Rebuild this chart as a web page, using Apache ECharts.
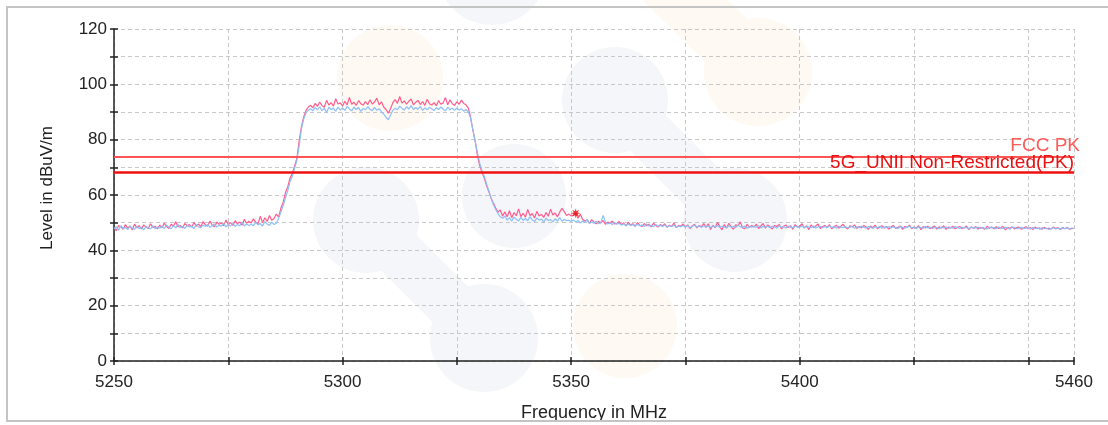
<!DOCTYPE html>
<html><head><meta charset="utf-8">
<script src="https://cdn.jsdelivr.net/npm/echarts@6/dist/echarts.min.js"></script>
<style>html,body{margin:0;padding:0;background:#fff}#c{width:1108px;height:425px}</style>
</head><body><div id="c"></div>
<script>
// sweep grid of the analyzer trace
const FREQ_START = 5250, FREQ_STEP = 0.5;
// peak trace (pink), dBuV/m, one value per 0.5 MHz from 5250 to 5460
const tracePink = [
48.2,47.1,49.0,48.5,47.6,49.3,48.0,48.8,47.4,49.5,48.1,48.9,47.7,49.2,48.4,47.9,49.6,48.3,48.7,47.8,
49.1,48.2,49.8,48.6,47.9,49.4,48.8,50.3,48.5,49.0,48.1,49.7,48.9,49.3,48.4,50.1,48.7,49.5,48.6,50.4,
49.2,48.8,50.6,49.1,48.5,50.2,49.4,49.9,48.9,51.0,49.3,50.0,49.0,50.7,49.6,50.3,49.1,51.2,49.8,50.5,
49.9,51.4,50.2,49.6,52.3,50.1,51.8,50.4,52.6,50.9,51.5,53.1,52.0,55.2,57.3,60.8,62.9,66.1,67.8,70.4,
73.2,79.5,84.6,88.2,90.6,91.8,92.4,91.5,93.1,92.0,93.6,92.3,91.7,94.2,92.5,93.4,92.1,94.8,92.9,93.3,
92.2,93.9,92.6,95.3,92.8,93.5,92.4,94.1,93.0,92.5,93.8,92.7,94.4,92.9,93.6,95.0,92.6,93.7,91.8,90.9,
89.6,91.2,93.4,94.5,93.1,95.6,93.2,94.0,92.8,93.9,94.7,92.6,93.5,94.2,92.7,93.8,92.4,94.6,93.0,92.5,
93.4,92.3,94.1,92.8,93.3,95.2,92.6,94.4,93.0,92.4,93.7,92.8,94.3,93.1,92.6,91.4,88.2,83.5,79.6,74.3,
70.6,68.2,66.1,63.4,61.2,58.7,57.0,55.3,53.8,54.6,52.4,53.9,52.1,54.3,51.8,53.6,52.5,55.0,52.2,53.4,
52.0,54.8,52.6,53.3,51.7,54.1,52.4,53.0,51.9,53.7,52.3,54.9,52.8,53.5,52.1,53.8,55.2,54.0,52.6,53.1,
52.4,52.8,53.4,51.6,53.0,51.2,50.6,50.9,49.8,51.1,50.3,49.6,50.5,49.9,50.8,49.4,50.2,49.7,50.6,49.5,
49.8,50.4,49.3,49.9,48.8,50.1,49.2,49.6,48.7,50.0,49.1,48.6,49.7,48.9,49.4,48.5,49.8,49.0,48.4,49.3,
48.8,49.6,48.3,49.1,48.6,49.9,48.2,49.0,48.7,49.5,48.4,49.2,47.9,48.8,49.4,48.1,49.0,48.5,49.7,48.3,
49.6,47.5,49.1,48.2,50.1,48.6,47.4,49.3,48.0,49.8,48.5,47.6,49.2,48.9,50.3,48.1,47.8,49.4,48.3,49.0,
48.4,49.5,47.9,48.8,49.7,48.0,49.2,48.5,47.7,49.0,48.6,49.4,47.8,48.7,49.1,48.2,48.9,47.6,49.3,48.4,
48.7,49.6,48.1,48.9,47.5,49.2,48.3,48.8,49.5,47.9,48.6,49.0,48.2,49.3,47.8,48.5,49.1,48.0,48.7,49.4,
48.3,47.7,48.9,48.4,49.2,47.9,48.6,48.1,49.0,48.5,47.6,48.8,48.2,49.1,47.8,48.4,48.9,48.0,48.6,47.7,
48.5,49.0,47.9,48.3,48.8,47.6,48.7,48.2,49.1,47.8,48.4,48.0,48.9,47.5,48.6,48.1,48.7,47.9,48.3,48.8,
47.7,48.5,48.0,48.9,47.6,48.4,48.1,48.7,47.8,48.3,48.6,47.9,48.2,48.8,47.5,48.4,48.0,48.6,47.7,48.3,
48.1,47.6,48.7,48.0,48.4,47.8,48.5,47.9,48.2,48.6,47.4,48.3,48.0,48.5,47.7,48.2,48.4,47.6,48.1,48.5,
47.8,48.2,47.5,48.4,47.9,48.1,47.6,48.3,47.8,48.0,47.7,48.4,47.9,48.2,47.5,48.1,47.8,48.3,47.6,48.0,
47.9
];
// second trace (blue)
const traceBlue = [
47.8,48.5,47.3,48.9,47.9,48.2,47.5,48.7,48.0,47.6,48.8,47.9,48.3,47.4,48.6,48.1,47.7,48.9,47.8,48.4,
48.0,48.7,47.9,49.2,48.3,47.8,48.9,48.1,49.4,48.2,48.6,47.9,49.0,48.4,48.8,47.9,49.3,48.5,48.2,49.1,
48.6,49.4,48.3,48.9,49.6,48.4,49.1,48.7,49.8,48.5,49.2,48.8,49.9,48.6,49.3,48.9,50.2,48.8,49.5,49.0,
49.4,48.9,50.1,49.2,49.7,48.8,50.4,49.5,49.0,50.2,49.3,49.8,51.5,53.8,56.2,58.9,61.5,64.8,66.7,69.6,
72.5,77.8,83.9,87.5,89.7,90.6,91.2,90.4,91.6,90.8,91.9,90.5,91.3,89.8,91.7,90.9,91.4,90.3,91.8,90.7,
91.5,90.6,92.0,91.1,90.4,91.8,90.9,91.6,90.2,91.3,90.8,91.9,91.0,90.5,91.7,90.6,91.2,90.1,89.2,88.1,
87.2,88.9,90.6,91.4,90.8,92.1,91.3,90.7,91.9,91.1,92.3,90.9,91.6,91.0,92.0,90.6,91.5,90.8,91.7,91.2,
90.5,91.6,90.9,91.8,91.1,90.4,91.7,90.8,91.4,90.6,91.5,90.7,91.2,90.3,90.9,90.1,87.8,83.6,79.4,75.2,
71.5,68.6,66.8,64.0,61.4,58.9,56.5,54.8,53.3,52.1,51.6,52.4,50.9,51.8,50.5,52.0,51.2,50.6,51.9,50.8,
51.5,50.7,52.2,51.0,50.4,51.7,50.9,51.3,50.2,51.6,50.8,51.1,50.3,51.4,50.6,51.8,50.5,51.2,50.7,50.9,
50.4,51.0,50.2,50.8,49.9,50.6,50.1,51.2,49.7,50.3,49.8,50.5,49.6,50.0,52.6,50.2,49.5,49.9,49.3,50.1,
49.4,49.8,49.1,49.6,48.9,49.5,49.0,49.3,48.7,49.4,48.9,49.2,48.6,49.5,48.8,49.1,48.5,49.3,48.7,49.0,
48.6,49.2,48.4,48.9,48.7,49.1,48.3,48.8,48.5,49.0,48.4,48.9,48.2,48.7,49.1,48.4,48.8,48.3,48.9,48.5,
48.8,48.2,48.9,48.4,49.0,48.3,48.7,48.5,48.1,48.9,48.4,48.6,48.2,49.1,48.5,48.3,48.8,48.0,48.6,48.4,
48.7,48.3,48.9,48.1,48.6,48.4,48.8,48.2,48.7,48.5,48.0,48.9,48.3,48.6,48.1,48.8,48.4,48.2,48.7,48.5,
48.3,48.9,48.1,48.6,48.4,48.2,48.8,48.0,48.5,48.7,48.2,48.6,48.1,48.9,48.3,48.5,48.0,48.7,48.4,48.2,
48.6,48.1,48.4,48.8,48.0,48.5,48.2,48.7,48.3,48.1,48.6,48.4,47.9,48.5,48.2,48.7,48.0,48.4,48.3,48.6,
48.1,48.5,48.2,47.9,48.6,48.3,48.0,48.4,48.7,48.1,48.3,47.8,48.5,48.2,48.0,48.6,48.1,48.4,47.9,48.3,
48.2,47.8,48.4,48.1,48.5,47.9,48.3,48.0,48.6,48.2,47.9,48.4,48.1,48.3,47.7,48.5,48.0,48.2,48.4,47.9,
48.3,48.0,47.7,48.4,48.1,48.2,47.8,48.5,48.0,47.9,48.3,48.1,47.6,48.4,48.2,47.9,48.0,48.3,47.8,48.1,
48.0,47.7,48.3,47.9,48.1,47.6,48.2,47.8,48.0,47.5,47.9,48.2,47.7,48.0,47.6,48.3,47.8,48.1,47.9,47.7,
48.0
];
const limitNames = ['FCC PK', '5G_UNII Non-Restricted(PK)'];
const limitValues = [74.0, 68.2];
const markerPoint = [5351, 53.4];
const xTickLabels = [5250, 5300, 5350, 5400, 5460];
const yTickLabels = [0, 20, 40, 60, 80, 100, 120];

const FONT = '"Liberation Sans", Arial, sans-serif';
const toPairs = arr => arr.map((v, i) => [FREQ_START + i * FREQ_STEP, v]);

const chart = echarts.init(document.getElementById('c'), null, {renderer: 'canvas'});

const wmGray = '#f5f6f9', wmOrange = '#fef9f2';
const circle = (cx, cy, r, fill) => ({type: 'circle', z: -10, silent: true, shape: {cx, cy, r}, style: {fill}});
const neck = (x1, y1, x2, y2, w, c) => ({type: 'line', z: -10, silent: true, shape: {x1, y1, x2, y2}, style: {stroke: c, lineWidth: w, lineCap: 'round'}});

const splitStyle = {show: true, lineStyle: {color: '#c8c8c8', type: [4, 3], width: 1}};

chart.setOption({
  animation: false,
  backgroundColor: '#fff',
  grid: {left: 114, right: 34, top: 29, bottom: 64, containLabel: false, outerBoundsMode: 'none'},
  graphic: [
    circle(492, -30, 55, wmGray),
    circle(390, 78, 53, wmOrange),
    neck(665, -20, 758, 72, 60, wmOrange),
    circle(758, 72, 54, wmOrange),
    neck(615, 100, 735, 220, 50, wmGray),
    circle(615, 100, 53, wmGray),
    circle(735, 220, 52, wmGray),
    circle(514, 196, 52, wmGray),
    neck(366, 220, 484, 338, 50, wmGray),
    circle(366, 220, 53, wmGray),
    circle(484, 338, 54, wmGray),
    circle(625, 326, 52, wmOrange),
    {type: 'rect', z: 100, silent: true, shape: {x: 0, y: 421, width: 1108, height: 4}, style: {fill: '#fff'}},
    {type: 'rect', z: 101, silent: true, shape: {x: 7, y: 7, width: 1130, height: 414}, style: {fill: null, stroke: '#c4c4c4', lineWidth: 2}}
  ],
  xAxis: [{
    type: 'value', min: 5250, max: 5460, interval: 25,
    name: 'Frequency in MHz', nameLocation: 'middle', nameGap: 43,
    nameTextStyle: {fontFamily: FONT, fontSize: 18, color: '#222'},
    axisLine: {show: true, onZero: false, lineStyle: {color: '#222', width: 1.5}},
    axisTick: {show: true, length: 4, lineStyle: {color: '#222', width: 1.5}},
    axisLabel: {margin: 13, fontFamily: FONT, fontSize: 17, color: '#222',
      formatter: v => xTickLabels.includes(v) ? String(v) : ''},
    splitLine: splitStyle
  }, {
    type: 'value', min: 5250, max: 5460, interval: 25, position: 'bottom',
    axisLine: {show: false, onZero: false},
    axisTick: {show: true, inside: true, length: 4, lineStyle: {color: '#222', width: 1.5}},
    axisLabel: {show: false}, splitLine: {show: false}
  }],
  yAxis: [{
    type: 'value', min: 0, max: 120, interval: 10,
    name: 'Level in dBuV/m', nameLocation: 'middle', nameGap: 58,
    nameTextStyle: {fontFamily: FONT, fontSize: 17, color: '#222', padding: [0, 0, 0, 14]},
    axisLine: {show: true, onZero: false, lineStyle: {color: '#222', width: 1.5}},
    axisTick: {show: true, length: 4, lineStyle: {color: '#222', width: 1.5}},
    axisLabel: {margin: 7, fontFamily: FONT, fontSize: 17, color: '#222',
      formatter: v => yTickLabels.includes(v) ? String(v) : ''},
    splitLine: splitStyle
  }, {
    type: 'value', min: 0, max: 120, interval: 10, position: 'left',
    axisLine: {show: false, onZero: false},
    axisTick: {show: true, inside: true, length: 4, lineStyle: {color: '#222', width: 1.5}},
    axisLabel: {show: false}, splitLine: {show: false}
  }],
  series: [
    {type: 'line', name: 'peak', data: toPairs(tracePink), showSymbol: false, symbol: 'none',
      lineStyle: {color: '#ff5c8d', width: 1.2}, z: 3},
    {type: 'line', name: 'avg', data: toPairs(traceBlue), showSymbol: false, symbol: 'none',
      lineStyle: {color: '#8dbff7', width: 1.2}, z: 4},
    {type: 'line', name: limitNames[0], data: [], z: 5,
      markLine: {symbol: 'none', silent: true, animation: false,
        lineStyle: {color: '#ff5555', width: 2, type: 'solid'},
        label: {position: 'insideEndTop', formatter: '{b}', color: '#ff5a5a', fontFamily: FONT, fontSize: 19, distance: [-6, 1]},
        data: [{name: limitNames[0], yAxis: limitValues[0]}]}},
    {type: 'line', name: limitNames[1], data: [], z: 5,
      markLine: {symbol: 'none', silent: true, animation: false,
        lineStyle: {color: '#ee1111', width: 2.5, type: 'solid'},
        label: {position: 'insideEndTop', formatter: '{b}', color: '#e81010', fontFamily: FONT, fontSize: 19, distance: 0},
        data: [{name: limitNames[1], yAxis: limitValues[1]}]}},
    {type: 'scatter', name: 'marker', data: [markerPoint], z: 6,
      symbol: 'path://M5,0L5.8,3.1L8.5,1.5L6.9,4.2L10,5L6.9,5.8L8.5,8.5L5.8,6.9L5,10L4.2,6.9L1.5,8.5L3.1,5.8L0,5L3.1,4.2L1.5,1.5L4.2,3.1Z',
      symbolSize: 10, itemStyle: {color: '#ee0000'}}
  ]
});
</script></body></html>
